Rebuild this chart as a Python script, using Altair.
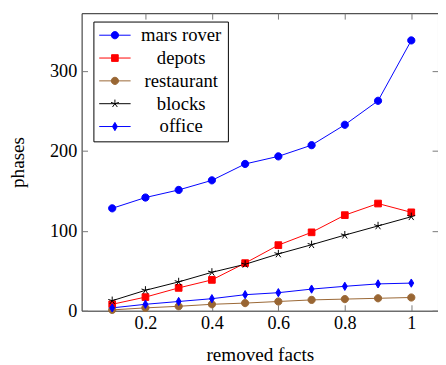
import altair as alt
import pandas as pd

# ---- data ----
x_vals = [0.1, 0.2, 0.3, 0.4, 0.5, 0.6, 0.7, 0.8, 0.9, 1.0]
series_names = ["mars rover", "depots", "restaurant", "blocks", "office"]
mars_rover = [128, 141.5, 151, 163, 183.5, 193, 207, 232.5, 262.5, 338]
depots = [8, 17, 28.5, 38.5, 59.5, 82, 98, 119.5, 134, 123]
restaurant = [1, 3.5, 5.5, 8, 9.5, 11.5, 13.5, 14.5, 15.5, 16.5]
blocks = [12.5, 25.5, 36, 48, 58, 71, 82.5, 94.5, 106, 117.5]
office = [3.5, 8, 11.5, 15, 20, 22.5, 27, 30.5, 33.5, 34.5]
x_ticks = [0.2, 0.4, 0.6, 0.8, 1.0]
y_ticks = [0, 100, 200, 300]

values = [mars_rover, depots, restaurant, blocks, office]
rows = []
for name, ys in zip(series_names, values):
    for xv, yv in zip(x_vals, ys):
        rows.append({"series": name, "x": xv, "y": yv})
df = pd.DataFrame(rows)

# ---- styles ----
colors = ["#0000ff", "#ff0000", "#996633", "#000000", "#0000ff"]
FONT = "Liberation Serif"
FS = 18.5
TFS = 19.5
LFS = 19


def circle(cx, r=0.92):
    return f"M{cx - r},0A{r},{r},0,1,1,{cx + r},0A{r},{r},0,1,1,{cx - r},0Z"


def square(cx, h=0.85):
    return f"M{cx - h},{-h}H{cx + h}V{h}H{cx - h}Z"


def star(cx, r=1.05):
    pts = [(0, -1), (0.951, -0.309), (0.588, 0.809), (-0.588, 0.809), (-0.951, -0.309)]
    return "".join(f"M{cx},0L{cx + px * r:.3f},{py * r:.3f}" for px, py in pts)


def diamond(cx, h=1.05, w=0.62):
    return f"M{cx},{-h}L{cx + w},0L{cx},{h}L{cx - w},0Z"


makers = [circle, square, circle, star, diamond]
chart_shapes = [m(0) for m in makers]
LEG_CX = 2.0
legend_shapes = ["M-2.0,0H6.0" + m(LEG_CX) + "M29,0" for m in makers]

xscale = alt.Scale(domain=[0.008, 1.0804], nice=False, zero=False)
yscale = alt.Scale(domain=[0, 372], nice=False, zero=False)
cscale = alt.Scale(domain=series_names, range=colors)
sscale = alt.Scale(domain=series_names, range=chart_shapes)
lscale = alt.Scale(domain=series_names, range=legend_shapes)

lines = alt.Chart(df).mark_line(strokeWidth=1).encode(
    x=alt.X("x:Q", scale=xscale,
            axis=alt.Axis(title="removed facts", values=x_ticks, format="~g",
                          offset=-6, tickSize=6, domain=False, grid=False,
                          tickColor="#777", labelPadding=3, titlePadding=14)),
    y=alt.Y("y:Q", scale=yscale,
            axis=alt.Axis(title="phases", values=y_ticks, offset=-6, tickSize=6,
                          domain=False, grid=False, tickColor="#777",
                          labelPadding=5, titlePadding=22)),
    color=alt.Color("series:N", scale=cscale, legend=None),
    detail="series:N",
)

points = alt.Chart(df).mark_point(filled=False, size=64, strokeWidth=1, opacity=1).encode(
    x=alt.X("x:Q", scale=xscale,
            axis=alt.Axis(orient="top", title=None, values=x_ticks, labels=False,
                          offset=-6, tickSize=6, domain=False, grid=False,
                          tickColor="#777")),
    y=alt.Y("y:Q", scale=yscale,
            axis=alt.Axis(orient="right", title=None, values=y_ticks, labels=False,
                          offset=-6, tickSize=6, domain=False, grid=False,
                          tickColor="#777")),
    color=alt.Color("series:N", scale=cscale, legend=None),
    fill=alt.Fill("series:N", scale=cscale, legend=None),
    shape=alt.Shape("series:N", scale=sscale, legend=None),
)

leg_common = dict(title=None, labelFont=FONT, labelFontSize=LFS, labelColor="#000",
                  labelFontWeight="normal")
legend_layer = alt.Chart(df).mark_point(filled=False, size=64, strokeWidth=1, opacity=0).encode(
    x=alt.X("x:Q", scale=xscale, axis=None),
    y=alt.Y("y:Q", scale=yscale, axis=None),
    color=alt.Color(
        "series:N", scale=cscale,
        legend=alt.Legend(
            orient="none", legendX=12, legendY=8.5,
            strokeColor="#000", fillColor="#fff", padding=4.4,
            symbolSize=64, symbolStrokeWidth=1, symbolOpacity=1,
            labelAlign="center", labelOffset=66, rowPadding=3.25, labelLimit=300,
            **leg_common,
        ),
    ),
    fill=alt.Fill("series:N", scale=cscale, legend=alt.Legend(**leg_common)),
    shape=alt.Shape("series:N", scale=lscale, legend=alt.Legend(**leg_common)),
)

chart = alt.layer(lines, points, legend_layer).resolve_axis(
    x="independent", y="independent"
).resolve_scale(shape="independent").resolve_legend(
    color="independent", shape="independent", fill="independent"
).properties(
    width=363, height=303,
    autosize="none",
    padding={"left": 75, "top": 2, "right": 0, "bottom": 52},
).configure(
    font=FONT,
).configure_view(stroke="#222", strokeWidth=1).configure_axis(
    labelFont=FONT, labelFontSize=FS, labelColor="#000",
    titleFont=FONT, titleFontSize=TFS, titleColor="#000", titleFontWeight="normal",
).configure_legend(
    labelFont=FONT, labelFontSize=LFS, labelColor="#000", labelFontWeight="normal",
    symbolOpacity=1,
)

chart.save("out.html", embed_options={"renderer": "svg", "actions": False})
